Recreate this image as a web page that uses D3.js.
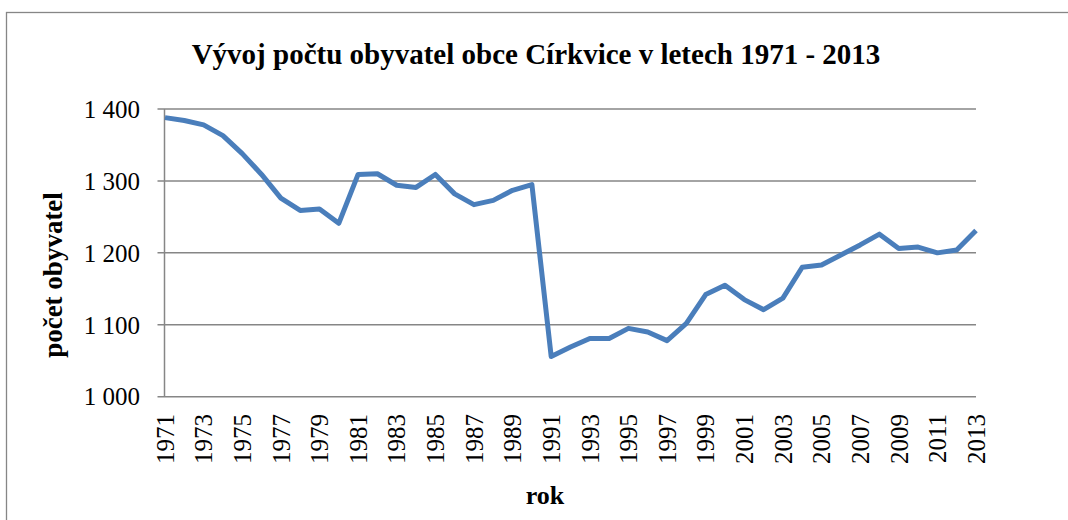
<!DOCTYPE html>
<meta charset="utf-8">
<style>
body {
  margin: 0;
  background: #fff;
}
svg text {
  font-family: "Liberation Serif", "Times New Roman", serif;
  fill: #000;
}
.grid line {
  stroke: #868686;
  stroke-width: 1.5px;
}
.line {
  fill: none;
  stroke: #4a7ebb;
  stroke-width: 5px;
  stroke-linejoin: round;
}
</style>
<body>
<svg width="1068" height="520"></svg>
<script src="https://cdn.jsdelivr.net/npm/d3@7/dist/d3.min.js"></script>
<script>
// pocet obyvatel obce Cirkvice
var years = d3.range(1971, 2014);
var population = [
  1388, 1384, 1378, 1363, 1338, 1309, 1276, 1259, 1261, 1241,
  1309, 1310, 1294, 1291, 1309, 1282, 1267, 1273, 1287, 1295,
  1056, 1069, 1081, 1081, 1095, 1090, 1078, 1102, 1142, 1155,
  1135, 1121, 1137, 1180, 1183, 1197, 1211, 1226, 1206, 1208,
  1200, 1204, 1231
];
var yTicks = [1000, 1100, 1200, 1300, 1400];
var xTicks = years.filter(function(y) { return (y - 1971) % 2 === 0; });

var titleText = "Vývoj počtu obyvatel obce Církvice v letech 1971 - 2013";
var yLabel = "počet obyvatel";
var xLabel = "rok";

var data = years.map(function(y, i) { return {year: y, value: population[i]}; });

var svg = d3.select("svg");

// outer frame
svg.append("rect")
    .attr("x", 6.5)
    .attr("y", 12.5)
    .attr("width", 1100)
    .attr("height", 600)
    .attr("fill", "none")
    .attr("stroke", "#868686")
    .attr("stroke-width", 1.3);

var plot = {left: 164.5, right: 976, top: 109, bottom: 396.7};

var x = d3.scaleLinear().domain([1971, 2013]).range([plot.left + 0.5, plot.right]);
var y = d3.scaleLinear().domain([1000, 1400]).range([plot.bottom, plot.top]);

// gridlines
svg.append("g")
    .attr("class", "grid")
  .selectAll("line")
  .data(yTicks)
  .enter().append("line")
    .attr("x1", plot.left - 7)
    .attr("x2", plot.right)
    .attr("y1", function(d) { return y(d); })
    .attr("y2", function(d) { return y(d); });

// y axis line
svg.append("line")
    .attr("x1", plot.left).attr("x2", plot.left)
    .attr("y1", plot.top).attr("y2", plot.bottom)
    .attr("stroke", "#868686")
    .attr("stroke-width", 1.5);

// y tick labels
svg.append("g").selectAll("text")
  .data(yTicks)
  .enter().append("text")
    .attr("x", 140)
    .attr("y", function(d) { return y(d); })
    .attr("dy", "0.35em")
    .attr("text-anchor", "end")
    .style("font-size", "25px")
    .text(function(d) { return d3.format(",")(d).replace(",", " "); });

// x tick labels
svg.append("g").selectAll("text")
  .data(xTicks)
  .enter().append("text")
    .attr("transform", function(d) { return "translate(" + x(d) + ",414) rotate(-90)"; })
    .attr("dy", "0.35em")
    .attr("text-anchor", "end")
    .style("font-size", "25px")
    .text(function(d) { return d; });

var line = d3.line()
    .x(function(d) { return x(d.year); })
    .y(function(d) { return y(d.value); });

svg.append("path")
    .datum(data)
    .attr("class", "line")
    .attr("d", line);

// title
svg.append("text")
    .attr("x", 536)
    .attr("y", 64)
    .attr("text-anchor", "middle")
    .style("font-size", "29px")
    .style("font-weight", "bold")
    .text(titleText);

svg.append("text")
    .attr("transform", "translate(53,275) rotate(-90)")
    .attr("text-anchor", "middle")
    .attr("dy", "0.35em")
    .style("font-size", "27px")
    .style("font-weight", "bold")
    .text(yLabel);

svg.append("text")
    .attr("x", 545)
    .attr("y", 504)
    .attr("text-anchor", "middle")
    .style("font-size", "26px")
    .style("font-weight", "bold")
    .text(xLabel);
</script>
</body>
